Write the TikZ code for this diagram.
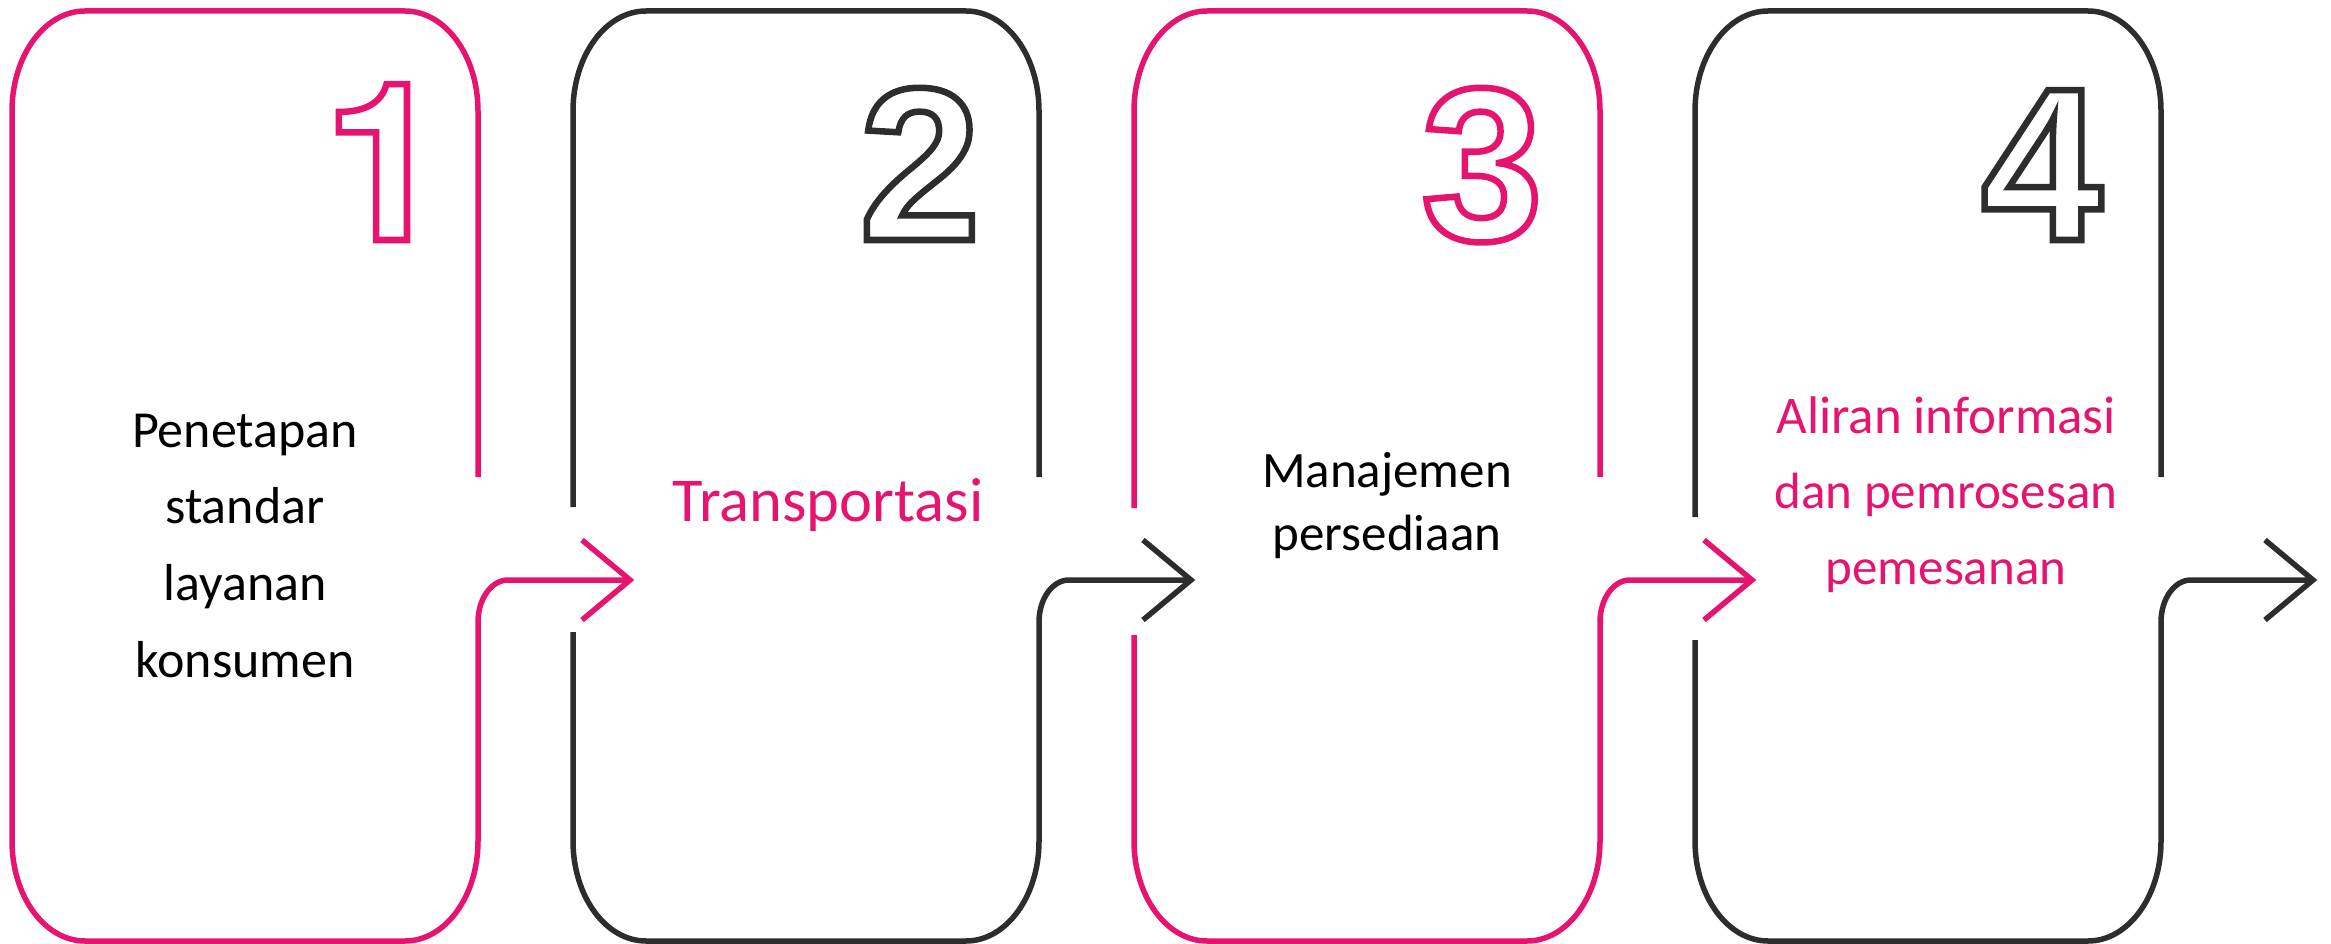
\documentclass[tikz,border=0pt]{standalone}
\usepackage{fontspec}
\setmainfont{Carlito}
\newfontfamily\digitfont{Liberation Sans}
\newfontfamily\onefont{TeX Gyre Heros}
\definecolor{pinkc}{RGB}{230,20,110}
\definecolor{darkc}{RGB}{45,45,45}
\newcommand\outl[1]{\special{pdf:literal direct 1 Tr 6.5 w}#1\special{pdf:literal direct 0 Tr}}
\tikzset{
  boxline/.style={line width=5.5pt},
  digit/.style={anchor=base,inner sep=0pt,font=\digitfont\bfseries\fontsize{218}{218}\selectfont},
  onedigit/.style={anchor=base,inner sep=0pt,font=\onefont\bfseries\fontsize{220}{220}\selectfont},
  txt/.style={anchor=base,inner sep=0pt,font=\fontsize{#1}{#1}\selectfont},
  txt/.default=52
}
\newcommand\stepbox[4]{%
 \draw[boxline,#2] ({#1+466},477) -- ({#1+466},111)
   arc[start angle=0,end angle=-90,x radius=73,y radius=100] -- ({#1+73},11)
   arc[start angle=-90,end angle=-180,x radius=73,y radius=100] -- (#1,#3);
 \draw[boxline,#2] (#1,#4) -- (#1,841)
   arc[start angle=180,end angle=90,x radius=73,y radius=100] -- ({#1+393},941)
   arc[start angle=90,end angle=0,x radius=73,y radius=100] -- ({#1+466},622)
   arc[start angle=180,end angle=270,x radius=30,y radius=42] -- ({#1+618},580);
 \draw[boxline,#2,miter limit=10] ({#1+570},540) -- ({#1+618},580) -- ({#1+570},620);
}
\begin{document}
\begin{tikzpicture}[x=1pt,y=-1pt]
\useasboundingbox (0,0) rectangle (2331,944);
\stepbox{12}{pinkc}{600}{600}
\stepbox{573}{darkc}{507}{632}
\stepbox{1134}{pinkc}{508}{635}
\stepbox{1695}{darkc}{517}{640}
% digits
\node[onedigit,text=pinkc] (d1) at (385,240) {\outl{1}};
\node[digit,text=darkc] (d2) at (920,240) {\outl{2}};
\node[digit,text=pinkc] (d3) at (1482,240) {\outl{3}};
\node[digit,text=darkc] (d4) at (2042,240) {\outl{4}};
% box 1 text
\node[txt=52,text=black] (t1a) at (245,447) {Penetapan};
\node[txt=52,text=black] (t1b) at (245,523) {standar};
\node[txt=52,text=black] (t1c) at (245,600) {layanan};
\node[txt=52,text=black] (t1d) at (245,677) {konsumen};
% box 2 text
\node[txt=62.5,text=pinkc] (t2) at (828,521) {Transportasi};
% box 3 text
\node[txt=51,text=black] (t3a) at (1387,487) {Manajemen};
\node[txt=51,text=black] (t3b) at (1387,550) {persediaan};
% box 4 text
\node[txt=53,text=pinkc] (t4a) at (1946,433) {Aliran informasi};
\node[txt=51,text=pinkc] (t4b) at (1946,508) {dan pemrosesan};
\node[txt=51,text=pinkc] (t4c) at (1946,584) {pemesanan};
\end{tikzpicture}
\end{document}
